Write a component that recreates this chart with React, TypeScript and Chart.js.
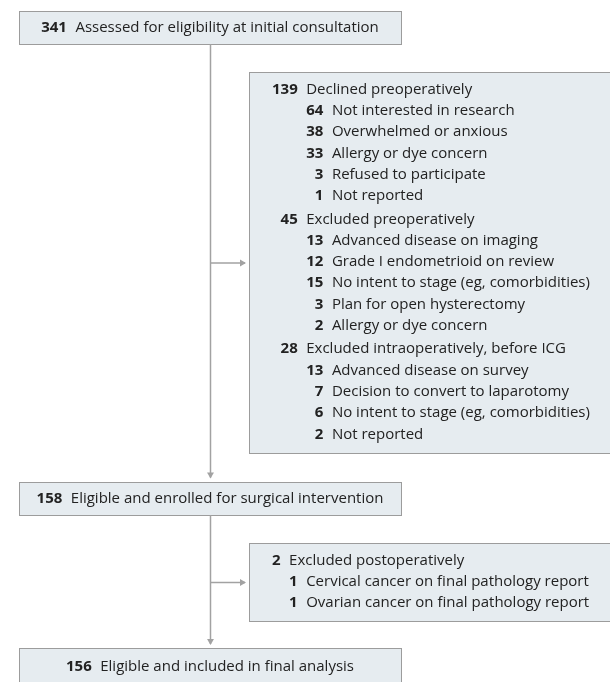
import { useEffect, useRef } from "react";
import { Chart, registerables } from "chart.js";

Chart.register(...registerables);

// ---------- data ----------
const mainCounts = [341, 158, 156];
const mainLabels = [
  "Assessed for eligibility at initial consultation",
  "Eligible and enrolled for surgical intervention",
  "Eligible and included in final analysis",
];

const preCounts = [139, 64, 38, 33, 3, 1, 45, 13, 12, 15, 3, 2, 28, 13, 7, 6, 2];
const preLabels = [
  "Declined preoperatively",
  "Not interested in research",
  "Overwhelmed or anxious",
  "Allergy or dye concern",
  "Refused to participate",
  "Not reported",
  "Excluded preoperatively",
  "Advanced disease on imaging",
  "Grade I endometrioid on review",
  "No intent to stage (eg, comorbidities)",
  "Plan for open hysterectomy",
  "Allergy or dye concern",
  "Excluded intraoperatively, before ICG",
  "Advanced disease on survey",
  "Decision to convert to laparotomy",
  "No intent to stage (eg, comorbidities)",
  "Not reported",
];
const preLevels = [1, 2, 2, 2, 2, 2, 1, 2, 2, 2, 2, 2, 1, 2, 2, 2, 2];

const postCounts = [2, 1, 1];
const postLabels = [
  "Excluded postoperatively",
  "Cervical cancer on final pathology report",
  "Ovarian cancer on final pathology report",
];
const postLevels = [1, 2, 2];

// ---------- layout (axis units) ----------
const W = 610;
const H = 682;
const mainBoxX = [19, 401];
const mainBoxY = [
  [10.5, 44],
  [481.5, 515],
  [648, 685],
];
const sideBoxX = [249, 615];
const sideBoxY = [
  [72, 453],
  [543, 621],
];
const sideBranchY = [263, 582.5];
const trunkX = 210.5;

// ---------- styles ----------
const FONT = '"Open Sans", "Liberation Sans", sans-serif';
const FONT_SIZE = 15;
const TEXT_COLOR = "#222222";
const BOX_FILL = "#e6ecf0";
const BOX_BORDER = "#9c9c9c";
const LINE_COLOR = "#a2a2a2";
const ARROW_R = 4;
const ARROW_GAP = 3;
const PAD_LEFT = 23;
const PAD_TOP = 17.5;
const LINE_H = 21.3;
const SECTION_GAP = 2;
const NUM_GAP = 8.5;

const font = (bold: boolean) => `${bold ? "700" : "400"} ${FONT_SIZE}px ${FONT}`;

const flowPlugin = {
  id: "flow",
  beforeDatasetsDraw(chart: any) {
    const { ctx, scales } = chart;
    const px = (v: number) => scales.x.getPixelForValue(v);
    const py = (v: number) => scales.y.getPixelForValue(v);
    ctx.save();

    const drawBox = (xr: number[], yr: number[]) => {
      const l = Math.round(px(xr[0])) + 0.5;
      const r = Math.round(px(xr[1])) + 0.5;
      const t = Math.round(py(yr[0])) + 0.5;
      const b = Math.round(py(yr[1])) + 0.5;
      ctx.fillStyle = BOX_FILL;
      ctx.fillRect(l, t, r - l, b - t);
      ctx.strokeStyle = BOX_BORDER;
      ctx.lineWidth = 1;
      ctx.strokeRect(l, t, r - l, b - t);
    };

    ctx.textBaseline = "middle";
    ctx.fillStyle = TEXT_COLOR;

    // main boxes
    mainCounts.forEach((n, i) => {
      drawBox(mainBoxX, mainBoxY[i]);
      const ns = String(n);
      ctx.font = font(true);
      const nw = ctx.measureText(ns).width;
      ctx.font = font(false);
      const lw = ctx.measureText(mainLabels[i]).width;
      const total = nw + NUM_GAP + lw;
      const cx = (px(mainBoxX[0]) + px(mainBoxX[1])) / 2;
      const cy = (py(mainBoxY[i][0]) + py(mainBoxY[i][1])) / 2;
      const x0 = cx - total / 2;
      ctx.fillStyle = TEXT_COLOR;
      ctx.textAlign = "left";
      ctx.font = font(true);
      ctx.fillText(ns, x0, cy);
      ctx.font = font(false);
      ctx.fillText(mainLabels[i], x0 + nw + NUM_GAP, cy);
    });

    // side boxes
    const sides = [
      { counts: preCounts, labels: preLabels, levels: preLevels },
      { counts: postCounts, labels: postLabels, levels: postLevels },
    ];
    sides.forEach((s, bi) => {
      drawBox(sideBoxX, sideBoxY[bi]);
      ctx.font = font(true);
      let w1 = 0;
      let w2 = 0;
      s.counts.forEach((n, i) => {
        const w = ctx.measureText(String(n)).width;
        if (s.levels[i] === 1) w1 = Math.max(w1, w);
        else w2 = Math.max(w2, w);
      });
      const left = px(sideBoxX[0]);
      const num1R = left + PAD_LEFT + w1;
      const lab1X = num1R + NUM_GAP;
      const num2R = lab1X + w2;
      const lab2X = num2R + NUM_GAP;
      let yy = py(sideBoxY[bi][0]) + PAD_TOP;
      s.counts.forEach((n, i) => {
        if (i > 0) yy += LINE_H + (s.levels[i] === 1 ? SECTION_GAP : 0);
        const lvl = s.levels[i];
        ctx.fillStyle = TEXT_COLOR;
        ctx.font = font(true);
        ctx.textAlign = "right";
        ctx.fillText(String(n), lvl === 1 ? num1R : num2R, yy);
        ctx.font = font(false);
        ctx.textAlign = "left";
        ctx.fillText(s.labels[i], lvl === 1 ? lab1X : lab2X, yy);
      });
    });
    ctx.restore();
  },
};

// connectors derived from box layout
const connectors = [
  [
    { x: trunkX, y: mainBoxY[0][1] },
    { x: trunkX, y: mainBoxY[1][0] - ARROW_GAP - 1 },
  ],
  [
    { x: trunkX, y: sideBranchY[0] },
    { x: sideBoxX[0] - ARROW_GAP - 1, y: sideBranchY[0] },
  ],
  [
    { x: trunkX, y: mainBoxY[1][1] },
    { x: trunkX, y: mainBoxY[2][0] - ARROW_GAP - 1 },
  ],
  [
    { x: trunkX, y: sideBranchY[1] },
    { x: sideBoxX[0] - ARROW_GAP - 1, y: sideBranchY[1] },
  ],
];
const arrowHeads = [
  { x: trunkX, y: mainBoxY[1][0] - ARROW_GAP - ARROW_R, rot: 180 },
  { x: sideBoxX[0] - ARROW_GAP - ARROW_R, y: sideBranchY[0], rot: 90 },
  { x: trunkX, y: mainBoxY[2][0] - ARROW_GAP - ARROW_R, rot: 180 },
  { x: sideBoxX[0] - ARROW_GAP - ARROW_R, y: sideBranchY[1], rot: 90 },
];

export default function App() {
  const ref = useRef<HTMLCanvasElement | null>(null);
  useEffect(() => {
    if (!ref.current) return;
    const datasets: any[] = connectors.map((pts) => ({
      type: "scatter",
      data: pts,
      showLine: true,
      borderColor: LINE_COLOR,
      borderWidth: 1.5,
      pointRadius: 0,
      fill: false,
    }));
    datasets.push({
      type: "scatter",
      data: arrowHeads.map((a) => ({ x: a.x, y: a.y })),
      pointStyle: "triangle",
      pointRadius: ARROW_R,
      pointRotation: arrowHeads.map((a) => a.rot),
      backgroundColor: LINE_COLOR,
      borderColor: LINE_COLOR,
      borderWidth: 0,
      showLine: false,
    });
    const chart = new Chart(ref.current, {
      type: "scatter",
      data: { datasets },
      options: {
        animation: false,
        responsive: false,
        events: [],
        layout: { padding: 0, autoPadding: false },
        plugins: { legend: { display: false }, tooltip: { enabled: false } },
        scales: {
          x: { type: "linear", min: 0, max: W, display: false },
          y: { type: "linear", min: 0, max: H, reverse: true, display: false },
        },
      },
      plugins: [flowPlugin],
    });
    return () => chart.destroy();
  }, []);
  return (
    <div style={{ position: "absolute", left: 0, top: 0, width: W, height: H, background: "#fff" }}>
      <canvas ref={ref} width={W} height={H} style={{ width: W, height: H, display: "block" }} />
    </div>
  );
}
